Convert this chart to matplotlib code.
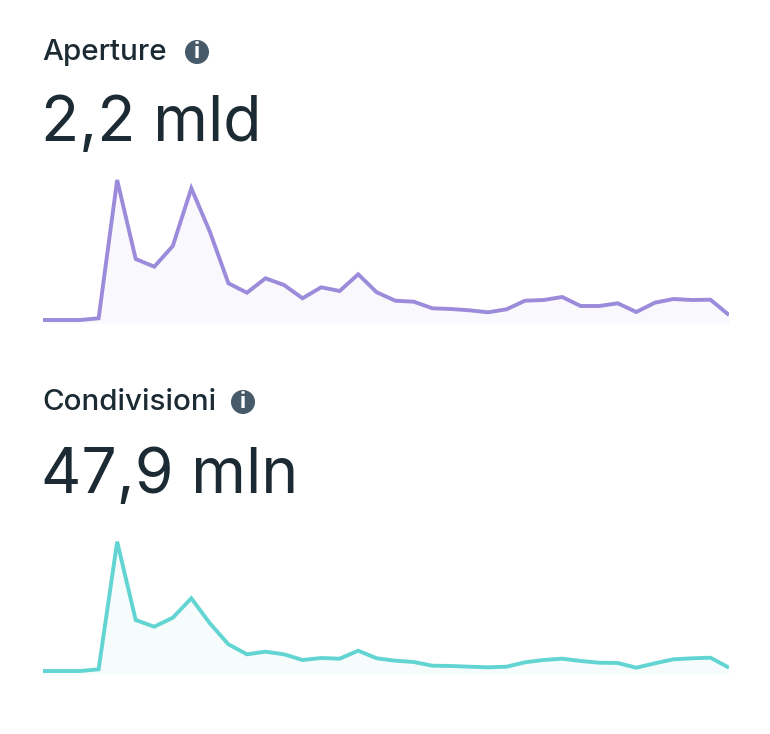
import matplotlib
matplotlib.use("Agg")
import matplotlib.pyplot as plt
from matplotlib.patches import Circle
import numpy as np

W, H = 770, 734
titles = ["Aperture", "Condivisioni"]
totals = ["2,2 mld", "47,9 mln"]
aperture = [0, 0, 0, 1.7, 140, 61, 53.3, 74, 131.7, 88.3, 36.7, 27.3, 41.7, 35, 21.7, 32.7, 29, 45.7,
            27.7, 19.3, 18.3, 11.7, 11, 9.7, 7.7, 10.7, 19.3, 20, 23, 14, 14, 16.7, 8, 17.3, 21, 20, 20.3, 5]
condivisioni = [0, 0, 0, 1.7, 129.3, 51, 44.3, 53.3, 72.7, 47.7, 26.7, 16.7, 19.3, 16.7, 11, 13, 12.3, 20.3,
                12.7, 10.3, 9, 5.3, 5, 4.3, 3.7, 4.3, 8.7, 11, 12.3, 10, 8.3, 8, 3.3, 7.7, 11.7, 12.7, 13.3, 3.3]
line_colors = ["#9B8BDA", "#62D5D2"]
fill_colors = ["#9B8BDA", "#62D5D2"]
text_color = "#1C2B33"
icon_color = "#465A69"

plt.rcParams["font.family"] = ["Inter", "DejaVu Sans"]
fig = plt.figure(figsize=(W / 100, H / 100), dpi=100, facecolor="white")

# page overlay in pixel coordinates, for the header text and icons
page = fig.add_axes([0, 0, 1, 1])
page.set_xlim(0, W)
page.set_ylim(H, 0)
page.axis("off")

series = [aperture, condivisioni]
baselines = [320, 671]
title_y = [53, 403]
total_y = [124, 477]
icon_x = [197, 243]
LEFT, RIGHT = 43, 729
TOP_PAD = 160

for i, vals in enumerate(series):
    base = baselines[i]
    bottom_extra = 3
    ax = fig.add_axes([LEFT / W, 1 - (base + bottom_extra) / H,
                       (RIGHT - LEFT) / W, (TOP_PAD + bottom_extra) / H])
    ax.set_xlim(0, len(vals) - 1)
    ax.set_ylim(-bottom_extra, TOP_PAD)
    ax.axis("off")
    x = np.arange(len(vals))
    ax.fill_between(x, vals, -bottom_extra, color=fill_colors[i], alpha=0.05, lw=0)
    ax.plot(x, vals, color=line_colors[i], lw=2.8, solid_joinstyle="miter",
            solid_capstyle="butt", clip_on=True)

    page.text(LEFT - 1, title_y[i], titles[i], fontsize=21.3, fontweight="medium",
              color=text_color, va="center", ha="left")
    page.text(LEFT - 2, total_y[i], totals[i], fontsize=45, color=text_color,
              va="center", ha="left")
    page.add_patch(Circle((icon_x[i], title_y[i] - 1), 12, color=icon_color, lw=0))
    page.text(icon_x[i], title_y[i] - 1, "i", fontsize=16, fontweight="bold", color="white",
              va="center", ha="center")

fig.savefig("out.png", dpi=100, facecolor="white")
